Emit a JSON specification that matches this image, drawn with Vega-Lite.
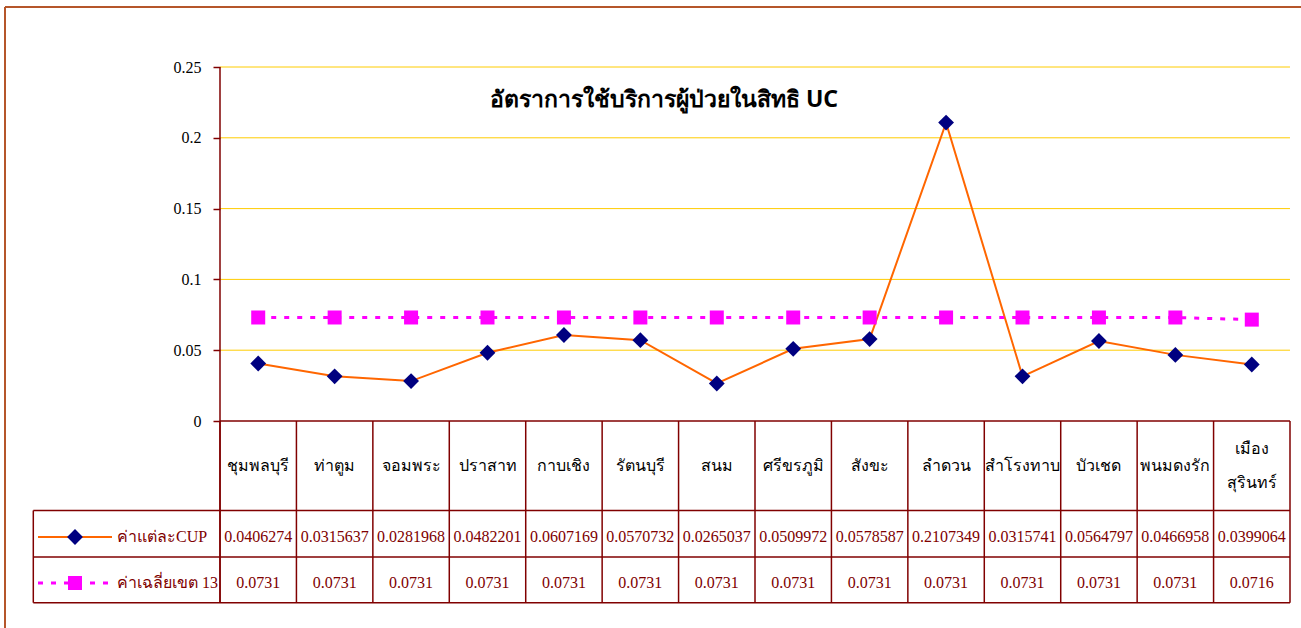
{
  "$schema": "https://vega.github.io/schema/vega-lite/v6.json",
  "width": 1296,
  "height": 621,
  "autosize": {"type": "none"},
  "padding": {"left": 5, "top": 7, "right": 0, "bottom": 0},
  "background": "white",
  "config": {"view": {"stroke": null}},
  "title": {
    "text": "อัตราการใช้บริการผู้ป่วยในสิทธิ  UC",
    "anchor": "middle",
    "orient": "top",
    "offset": 0,
    "baseline": "middle",
    "dx": 11,
    "dy": 117,
    "fontSize": 23,
    "fontWeight": "bold",
    "font": "Noto Sans",
    "color": "black"
  },
  "datasets": {
    "d": [
      {"district": "ชุมพลบุรี", "cup": 0.0406274, "avg": 0.0731},
      {"district": "ท่าตูม", "cup": 0.0315637, "avg": 0.0731},
      {"district": "จอมพระ", "cup": 0.0281968, "avg": 0.0731},
      {"district": "ปราสาท", "cup": 0.0482201, "avg": 0.0731},
      {"district": "กาบเชิง", "cup": 0.0607169, "avg": 0.0731},
      {"district": "รัตนบุรี", "cup": 0.0570732, "avg": 0.0731},
      {"district": "สนม", "cup": 0.0265037, "avg": 0.0731},
      {"district": "ศรีขรภูมิ", "cup": 0.0509972, "avg": 0.0731},
      {"district": "สังขะ", "cup": 0.0578587, "avg": 0.0731},
      {"district": "ลำดวน", "cup": 0.2107349, "avg": 0.0731},
      {"district": "สำโรงทาบ", "cup": 0.0315741, "avg": 0.0731},
      {"district": "บัวเชด", "cup": 0.0564797, "avg": 0.0731},
      {"district": "พนมดงรัก", "cup": 0.0466958, "avg": 0.0731},
      {"district": "เมือง\nสุรินทร์", "cup": 0.0399064, "avg": 0.0716}
    ],
    "grid": [{"v": 0.05}, {"v": 0.1}, {"v": 0.15}, {"v": 0.2}, {"v": 0.25}],
    "one": [{}]
  },
  "resolve": {"scale": {"x": "independent"}},
  "layer": [
    {
      "layer": [
        {
          "data": {"name": "grid"},
          "mark": {"type": "rule", "color": "#FFCC00", "strokeWidth": 1},
          "encoding": {
            "y": {"field": "v", "type": "quantitative",
              "scale": {"domain": [-0.146186, 0.292373], "nice": false, "zero": false},
              "axis": {"values": [0, 0.05, 0.1, 0.15, 0.2, 0.25], "format": "~g", "domain": false, "grid": false, "offset": -215, "tickColor": "#800000", "tickSize": 7, "tickWidth": 1.5, "labelFont": "Liberation Serif", "labelFontSize": 16, "labelColor": "black", "labelPadding": 12, "title": null}},
            "x": {"datum": 0, "type": "quantitative", "scale": {"type": "linear", "domain": [-2.81308, 14.14393], "nice": false, "zero": false}, "axis": null},
            "x2": {"datum": 14}
          }
        },
        {
          "data": {"name": "one"},
          "mark": {"type": "rule", "color": "#800000", "strokeWidth": 1.5},
          "encoding": {
            "x": {"datum": 0, "type": "quantitative", "axis": null},
            "y": {"datum": 0.25, "type": "quantitative"},
            "y2": {"datum": -0.128319}
          }
        },
        {
          "data": {"name": "one"},
          "mark": {"type": "rule", "color": "#800000", "strokeWidth": 1.5},
          "encoding": {
            "y": {"datum": 0, "type": "quantitative"},
            "x": {"datum": 0, "type": "quantitative", "axis": null},
            "x2": {"datum": 14}
          }
        },
        {
          "data": {"name": "one"},
          "mark": {"type": "rule", "color": "#800000", "strokeWidth": 1.5},
          "encoding": {
            "y": {"datum": -0.063206, "type": "quantitative"},
            "x": {"datum": -2.4428, "type": "quantitative", "axis": null},
            "x2": {"datum": 14}
          }
        },
        {
          "data": {"name": "one"},
          "mark": {"type": "rule", "color": "#800000", "strokeWidth": 1.5},
          "encoding": {
            "y": {"datum": -0.096045, "type": "quantitative"},
            "x": {"datum": -2.4428, "type": "quantitative", "axis": null},
            "x2": {"datum": 14}
          }
        },
        {
          "data": {"name": "one"},
          "mark": {"type": "rule", "color": "#800000", "strokeWidth": 1.5},
          "encoding": {
            "y": {"datum": -0.128319, "type": "quantitative"},
            "x": {"datum": -2.4428, "type": "quantitative", "axis": null},
            "x2": {"datum": 14}
          }
        },
        {
          "data": {"name": "one"},
          "mark": {"type": "rule", "color": "#800000", "strokeWidth": 1.5},
          "encoding": {
            "x": {"datum": -2.4428, "type": "quantitative", "axis": null},
            "y": {"datum": -0.063206, "type": "quantitative"},
            "y2": {"datum": -0.128319}
          }
        },
        {
          "data": {"name": "one"},
          "mark": {"type": "rule", "color": "#800000", "strokeWidth": 1.5},
          "encoding": {
            "x": {"datum": 14, "type": "quantitative", "axis": null},
            "y": {"datum": 0, "type": "quantitative"},
            "y2": {"datum": -0.128319}
          }
        },
        {
          "data": {"name": "one"},
          "mark": {"type": "rule", "color": "#FF6600", "strokeWidth": 2},
          "encoding": {
            "y": {"datum": -0.081921, "type": "quantitative"},
            "x": {"datum": -2.3813, "type": "quantitative", "axis": null},
            "x2": {"datum": -1.4131}
          }
        },
        {
          "data": {"name": "one"},
          "mark": {"type": "point", "shape": "diamond", "filled": true, "color": "#000080", "size": 250, "opacity": 1},
          "encoding": {
            "y": {"datum": -0.081921, "type": "quantitative"},
            "x": {"datum": -1.8972, "type": "quantitative", "axis": null}
          }
        },
        {
          "data": {"name": "one"},
          "mark": {"type": "rule", "color": "#FF00FF", "strokeWidth": 3, "strokeDash": [5, 8]},
          "encoding": {
            "y": {"datum": -0.114407, "type": "quantitative"},
            "x": {"datum": -2.3813, "type": "quantitative", "axis": null},
            "x2": {"datum": -1.4131}
          }
        },
        {
          "data": {"name": "one"},
          "mark": {"type": "point", "shape": "square", "filled": true, "color": "#FF00FF", "size": 196, "opacity": 1},
          "encoding": {
            "y": {"datum": -0.114407, "type": "quantitative"},
            "x": {"datum": -1.8972, "type": "quantitative", "axis": null}
          }
        },
        {
          "data": {"name": "one"},
          "mark": {"type": "text", "text": "ค่าแต่ละCUP", "align": "left", "baseline": "middle", "font": "Liberation Serif", "fontSize": 16, "color": "#800000"},
          "encoding": {
            "y": {"datum": -0.081921, "type": "quantitative"},
            "x": {"datum": -1.3477, "type": "quantitative", "axis": null}
          }
        },
        {
          "data": {"name": "one"},
          "mark": {"type": "text", "text": "ค่าเฉลี่ยเขต 13", "align": "left", "baseline": "middle", "font": "Liberation Serif", "fontSize": 16, "color": "#800000"},
          "encoding": {
            "y": {"datum": -0.114407, "type": "quantitative"},
            "x": {"datum": -1.3477, "type": "quantitative", "axis": null}
          }
        },
        {
          "data": {"name": "one"},
          "mark": {"type": "rule", "color": "#B5562A", "strokeWidth": 2},
          "encoding": {
            "y": {"datum": 0.292373, "type": "quantitative"},
            "x": {"datum": -2.81308, "type": "quantitative", "axis": null},
            "x2": {"datum": 14.14393}
          }
        },
        {
          "data": {"name": "one"},
          "mark": {"type": "rule", "color": "#B5562A", "strokeWidth": 2},
          "encoding": {
            "x": {"datum": -2.81308, "type": "quantitative", "axis": null},
            "y": {"datum": 0.292373, "type": "quantitative"},
            "y2": {"datum": -0.146186}
          }
        }
      ]
    },
    {
      "data": {"name": "d"},
      "layer": [
        {
          "mark": {"type": "rule", "color": "#800000", "strokeWidth": 1.5},
          "encoding": {
            "x": {"field": "district", "type": "nominal", "bandPosition": 0, "axis": null,
              "scale": {"type": "band", "domain": ["ชุมพลบุรี", "ท่าตูม", "จอมพระ", "ปราสาท", "กาบเชิง", "รัตนบุรี", "สนม", "ศรีขรภูมิ", "สังขะ", "ลำดวน", "สำโรงทาบ", "บัวเชด", "พนมดงรัก", "เมือง\nสุรินทร์"], "paddingInner": 0, "paddingOuter": 0, "range": [215, 1285]}},
            "y": {"datum": 0, "type": "quantitative"},
            "y2": {"datum": -0.128319}
          }
        },
        {
          "mark": {"type": "line", "color": "#FF6600", "strokeWidth": 2},
          "encoding": {
            "x": {"field": "district", "type": "nominal", "bandPosition": 0.5, "axis": null,
              "scale": {"type": "band", "domain": ["ชุมพลบุรี", "ท่าตูม", "จอมพระ", "ปราสาท", "กาบเชิง", "รัตนบุรี", "สนม", "ศรีขรภูมิ", "สังขะ", "ลำดวน", "สำโรงทาบ", "บัวเชด", "พนมดงรัก", "เมือง\nสุรินทร์"], "paddingInner": 0, "paddingOuter": 0, "range": [215, 1285]}},
            "y": {"field": "cup", "type": "quantitative"}
          }
        },
        {
          "mark": {"type": "point", "shape": "diamond", "filled": true, "color": "#000080", "size": 250, "opacity": 1},
          "encoding": {
            "x": {"field": "district", "type": "nominal", "bandPosition": 0.5, "axis": null,
              "scale": {"type": "band", "domain": ["ชุมพลบุรี", "ท่าตูม", "จอมพระ", "ปราสาท", "กาบเชิง", "รัตนบุรี", "สนม", "ศรีขรภูมิ", "สังขะ", "ลำดวน", "สำโรงทาบ", "บัวเชด", "พนมดงรัก", "เมือง\nสุรินทร์"], "paddingInner": 0, "paddingOuter": 0, "range": [215, 1285]}},
            "y": {"field": "cup", "type": "quantitative"}
          }
        },
        {
          "mark": {"type": "line", "color": "#FF00FF", "strokeWidth": 3, "strokeDash": [5, 8]},
          "encoding": {
            "x": {"field": "district", "type": "nominal", "bandPosition": 0.5, "axis": null,
              "scale": {"type": "band", "domain": ["ชุมพลบุรี", "ท่าตูม", "จอมพระ", "ปราสาท", "กาบเชิง", "รัตนบุรี", "สนม", "ศรีขรภูมิ", "สังขะ", "ลำดวน", "สำโรงทาบ", "บัวเชด", "พนมดงรัก", "เมือง\nสุรินทร์"], "paddingInner": 0, "paddingOuter": 0, "range": [215, 1285]}},
            "y": {"field": "avg", "type": "quantitative"}
          }
        },
        {
          "mark": {"type": "point", "shape": "square", "filled": true, "color": "#FF00FF", "size": 196, "opacity": 1},
          "encoding": {
            "x": {"field": "district", "type": "nominal", "bandPosition": 0.5, "axis": null,
              "scale": {"type": "band", "domain": ["ชุมพลบุรี", "ท่าตูม", "จอมพระ", "ปราสาท", "กาบเชิง", "รัตนบุรี", "สนม", "ศรีขรภูมิ", "สังขะ", "ลำดวน", "สำโรงทาบ", "บัวเชด", "พนมดงรัก", "เมือง\nสุรินทร์"], "paddingInner": 0, "paddingOuter": 0, "range": [215, 1285]}},
            "y": {"field": "avg", "type": "quantitative"}
          }
        },
        {
          "transform": [{"filter": "indexof(datum.district, '\\n') < 0"}],
          "mark": {"type": "text", "align": "center", "baseline": "middle", "font": "Liberation Serif", "fontSize": 16, "color": "black"},
          "encoding": {
            "x": {"field": "district", "type": "nominal", "bandPosition": 0.5, "axis": null,
              "scale": {"type": "band", "domain": ["ชุมพลบุรี", "ท่าตูม", "จอมพระ", "ปราสาท", "กาบเชิง", "รัตนบุรี", "สนม", "ศรีขรภูมิ", "สังขะ", "ลำดวน", "สำโรงทาบ", "บัวเชด", "พนมดงรัก", "เมือง\nสุรินทร์"], "paddingInner": 0, "paddingOuter": 0, "range": [215, 1285]}},
            "y": {"datum": -0.03178, "type": "quantitative"},
            "text": {"field": "district", "type": "nominal"}
          }
        },
        {
          "transform": [{"filter": "indexof(datum.district, '\\n') >= 0"}],
          "mark": {"type": "text", "align": "center", "baseline": "middle", "font": "Liberation Serif", "fontSize": 16, "color": "black", "lineBreak": "\n", "lineHeight": 34, "dy": -17},
          "encoding": {
            "x": {"field": "district", "type": "nominal", "bandPosition": 0.5, "axis": null,
              "scale": {"type": "band", "domain": ["ชุมพลบุรี", "ท่าตูม", "จอมพระ", "ปราสาท", "กาบเชิง", "รัตนบุรี", "สนม", "ศรีขรภูมิ", "สังขะ", "ลำดวน", "สำโรงทาบ", "บัวเชด", "พนมดงรัก", "เมือง\nสุรินทร์"], "paddingInner": 0, "paddingOuter": 0, "range": [215, 1285]}},
            "y": {"datum": -0.03178, "type": "quantitative"},
            "text": {"field": "district", "type": "nominal"}
          }
        },
        {
          "mark": {"type": "text", "align": "center", "baseline": "middle", "font": "Liberation Serif", "fontSize": 16, "color": "#800000"},
          "encoding": {
            "x": {"field": "district", "type": "nominal", "bandPosition": 0.5, "axis": null,
              "scale": {"type": "band", "domain": ["ชุมพลบุรี", "ท่าตูม", "จอมพระ", "ปราสาท", "กาบเชิง", "รัตนบุรี", "สนม", "ศรีขรภูมิ", "สังขะ", "ลำดวน", "สำโรงทาบ", "บัวเชด", "พนมดงรัก", "เมือง\nสุรินทร์"], "paddingInner": 0, "paddingOuter": 0, "range": [215, 1285]}},
            "y": {"datum": -0.081921, "type": "quantitative"},
            "text": {"field": "cup", "type": "nominal"}
          }
        },
        {
          "mark": {"type": "text", "align": "center", "baseline": "middle", "font": "Liberation Serif", "fontSize": 16, "color": "#800000"},
          "encoding": {
            "x": {"field": "district", "type": "nominal", "bandPosition": 0.5, "axis": null,
              "scale": {"type": "band", "domain": ["ชุมพลบุรี", "ท่าตูม", "จอมพระ", "ปราสาท", "กาบเชิง", "รัตนบุรี", "สนม", "ศรีขรภูมิ", "สังขะ", "ลำดวน", "สำโรงทาบ", "บัวเชด", "พนมดงรัก", "เมือง\nสุรินทร์"], "paddingInner": 0, "paddingOuter": 0, "range": [215, 1285]}},
            "y": {"datum": -0.114407, "type": "quantitative"},
            "text": {"field": "avg", "type": "nominal"}
          }
        }
      ]
    }
  ]
}
